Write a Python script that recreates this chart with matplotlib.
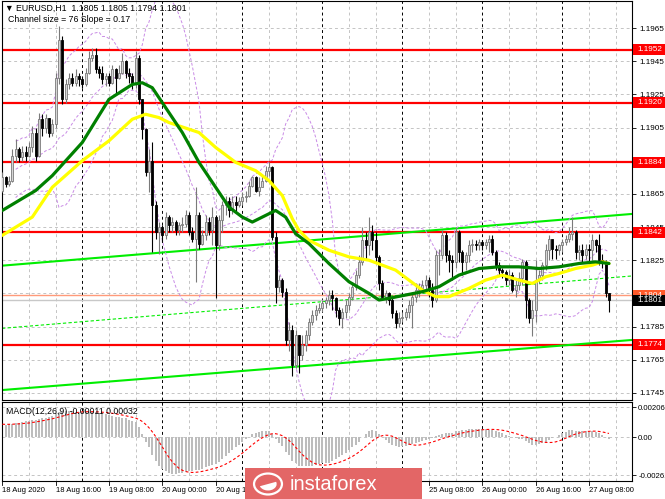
import numpy as np
import pandas as pd
import matplotlib
matplotlib.use('Agg')
import matplotlib.pyplot as plt
from matplotlib.patches import Rectangle, Circle, Wedge
import matplotlib.transforms as mtransforms

plt.rcParams['font.family'] = ['Liberation Sans', 'DejaVu Sans']

# EURUSD H1, prices in pips above 1.1700
first_open = 167
closes = [
    175, 171, 173, 188, 192, 187, 190, 188, 193, 202,
    188, 210, 205, 211, 202, 207, 235, 258, 222, 231,
    235, 232, 236, 234, 231, 238, 247, 249, 240, 238,
    234, 236, 232, 240, 235, 238, 245, 238, 236, 231,
    247, 222, 204, 178, 185, 158, 142, 145, 140, 151,
    146, 148, 143, 146, 147, 152, 142, 138, 152, 135,
    140, 148, 143, 151, 134, 149, 158, 161, 155, 160,
    158, 161, 163, 164, 170, 175, 167, 169, 173, 179,
    181, 139, 109, 113, 106, 77, 83, 62, 80, 68,
    74, 80, 88, 92, 95, 96, 99, 101, 104, 102,
    95, 90, 94, 98, 103, 109, 116, 124, 137, 134,
    142, 137, 127, 111, 103, 105, 101, 93, 87, 90,
    91, 94, 98, 103, 107, 108, 110, 113, 107, 101,
    128, 128, 140, 128, 125, 124, 142, 130, 124, 128,
    134, 135, 134, 136, 134, 136, 138, 130, 122, 119,
    118, 113, 116, 107, 110, 114, 124, 101, 90, 95,
    113, 116, 122, 131, 138, 132, 131, 134, 136, 138,
    141, 142, 130, 131, 128, 132, 131, 137, 134, 125,
    124, 105, 101]
highs = [
    178, 176, 176, 192, 198, 193, 194, 194, 196, 206,
    205, 214, 213, 213, 211, 210, 238, 266, 260, 234,
    238, 238, 240, 238, 236, 241, 251, 253, 253, 242,
    242, 238, 238, 243, 241, 243, 250, 246, 241, 238,
    251, 249, 222, 205, 192, 196, 161, 148, 146, 154,
    152, 151, 149, 148, 151, 155, 154, 145, 169, 154,
    143, 152, 151, 157, 152, 152, 161, 164, 163, 164,
    164, 163, 166, 167, 173, 176, 176, 175, 176, 182,
    184, 182, 142, 116, 114, 108, 88, 86, 83, 80,
    80, 83, 90, 95, 98, 99, 101, 103, 107, 107,
    103, 97, 96, 101, 105, 112, 119, 128, 145, 142,
    151, 146, 142, 128, 113, 107, 106, 103, 95, 94,
    94, 96, 101, 106, 111, 111, 113, 116, 115, 111,
    131, 132, 143, 142, 131, 128, 145, 143, 131, 130,
    137, 138, 137, 138, 137, 138, 140, 140, 131, 124,
    120, 119, 119, 118, 113, 118, 126, 125, 102, 101,
    125, 119, 124, 135, 140, 137, 134, 135, 138, 140,
    145, 151, 143, 134, 135, 135, 135, 141, 138, 141,
    129, 125, 105]
lows = [
    166, 169, 170, 172, 184, 184, 185, 185, 187, 190,
    185, 187, 200, 202, 199, 200, 205, 231, 219, 220,
    228, 230, 230, 230, 229, 230, 237, 245, 238, 235,
    231, 230, 230, 231, 226, 234, 237, 235, 232, 228,
    229, 219, 198, 176, 166, 130, 138, 129, 136, 138,
    142, 142, 140, 140, 142, 145, 140, 136, 112, 132,
    134, 137, 140, 134, 102, 131, 142, 152, 151, 153,
    154, 157, 158, 160, 163, 169, 166, 164, 170, 172,
    176, 137, 99, 106, 103, 74, 70, 55, 60, 57,
    65, 70, 77, 86, 89, 93, 94, 96, 98, 95,
    91, 86, 84, 90, 95, 101, 107, 114, 122, 125,
    128, 131, 124, 107, 101, 99, 98, 90, 84, 85,
    88, 89, 90, 84, 100, 103, 105, 107, 103, 97,
    100, 116, 126, 124, 118, 113, 120, 124, 116, 119,
    124, 130, 131, 131, 131, 132, 130, 128, 119, 116,
    114, 110, 110, 106, 103, 107, 110, 90, 87, 79,
    88, 111, 113, 119, 125, 126, 126, 128, 130, 134,
    136, 137, 126, 125, 124, 126, 124, 125, 130, 122,
    120, 103, 94]

# moving averages: (bar, pips)
green_bar = [0, 10, 15, 24, 32, 39, 42, 45, 48, 54, 59, 64, 68, 72, 75, 78, 82, 85, 88,
             92, 98, 104, 110, 113, 116, 121, 126, 131, 137, 143, 149, 155, 161, 167,
             173, 178, 182]
green_val = [155, 167, 176, 196, 222, 231, 232, 229, 220, 202, 184, 169, 157, 151, 148,
             151, 155, 151, 141, 135, 123, 112, 105, 101, 102, 104, 106, 109, 116, 120,
             121, 121, 120, 121, 123, 124, 123]
yellow_bar = [0, 9, 15, 24, 32, 39, 43, 47, 50, 59, 64, 70, 76, 80, 84, 87, 89, 92, 98,
              104, 110, 114, 118, 122, 126, 130, 134, 140, 145, 150, 155, 159, 163, 167,
              172, 177, 180, 182]
yellow_val = [140, 151, 169, 185, 197, 210, 213, 211, 208, 202, 193, 184, 179, 173, 164,
              150, 143, 137, 131, 127, 125, 122, 119, 113, 107, 103, 103, 108, 113, 116,
              113, 111, 115, 117, 120, 122, 124, 123]

# MACD main (histogram), units of 0.00001
macd_main = [
    90, 88, 90, 92, 95, 100, 105, 110, 115, 120,
    122, 125, 130, 135, 140, 150, 165, 175, 175, 178,
    178, 178, 176, 176, 175, 175, 176, 175, 172, 168,
    163, 158, 152, 148, 143, 140, 135, 130, 122, 112,
    105, 70, 20, -30, -70, -120, -160, -195, -215, -235,
    -245, -250, -250, -248, -245, -240, -235, -232, -225, -222,
    -215, -205, -198, -190, -185, -170, -150, -130, -110, -90,
    -70, -50, -30, -10, 5, 20, 30, 35, 40, 42,
    40, 20, -10, -40, -60, -100, -125, -160, -180, -195,
    -200, -200, -198, -195, -190, -185, -180, -180, -178, -165,
    -150, -135, -120, -105, -88, -70, -50, -30, 0, 25,
    45, 50, 40, 20, 0, -20, -40, -55, -63, -65,
    -63, -60, -55, -48, -40, -32, -25, -18, -12, -7,
    8, 16, 25, 28, 28, 30, 40, 45, 50, 52,
    55, 55, 57, 57, 56, 55, 52, 50, 45, 38,
    28, 18, 8, 0, -5, -10, -15, -28, -42, -50,
    -53, -48, -40, -30, -18, -8, 5, 15, 28, 38,
    48, 50, 45, 42, 40, 40, 38, 40, 38, 30,
    18, 2, -11]

levels = [1.1952, 1.1920, 1.1884, 1.1842, 1.1774]
chan_upper = [1.18217, 1.18529]
chan_lower = [1.17467, 1.17769]
chan_mid = [1.17839, 1.18155]
time_bars = [0, 16, 32, 48, 64, 80, 96, 112, 128, 144, 160, 176]
time_labels = ['18 Aug 2020', '18 Aug 16:00', '19 Aug 08:00', '20 Aug 00:00', '20 Aug 16:00',
               '21 Aug 08:00', '24 Aug 00:00', '24 Aug 16:00', '25 Aug 08:00', '26 Aug 00:00',
               '26 Aug 16:00', '27 Aug 08:00']
day_bars = [24, 48, 72, 96, 120, 144, 168]

base = 1.17
c = base + np.array(closes) / 1e4
h = base + np.array(highs) / 1e4
l = base + np.array(lows) / 1e4
o = np.concatenate([[base + first_open / 1e4], c[:-1]])
n = len(c)
idx = np.arange(n)

W, H = 665, 499
fig = plt.figure(figsize=(W / 100, H / 100), dpi=100)
fig.patch.set_facecolor('white')

def fx(px):
    return px / W

def fy(py):
    return 1 - py / H

ax = fig.add_axes([fx(2), fy(400), fx(630), 399 / H])
ax2 = fig.add_axes([fx(2), fy(481), fx(630), 79 / H])
xmin, xmax = -0.09, 188.91
for a in (ax, ax2):
    a.set_xlim(xmin, xmax)
    a.set_xticks([])
    for s in a.spines.values():
        s.set_linewidth(0.8)
        s.set_color('black')
ax.set_ylim(1.17407, 1.19813)
ax2.set_ylim(-0.00301, 0.00243)

grid_kw = dict(color='#c4c4c4', lw=0.7, ls=(0, (3, 3)), zorder=0)
for a in (ax, ax2):
    for b in range(8, 190, 8):
        if b not in day_bars:
            a.axvline(b, **grid_kw)
    for b in day_bars:
        a.axvline(b, color='black', lw=0.7, ls=(0, (3, 3)), zorder=0.5)

ticks = np.round(np.arange(1.1745, 1.1966, 0.002), 4)
for t in ticks:
    ax.axhline(t, **grid_kw)
ax.yaxis.tick_right()
ax.set_yticks(ticks)
ax.set_yticklabels([f'{t:.4f}' for t in ticks], fontsize=5.9)
ax.tick_params(axis='y', length=3, width=0.6, pad=2)

# horizontal levels and channel
for p in levels:
    ax.axhline(p, color='#ff0000', lw=1.6, zorder=1.5)
ax.axhline(1.1804, color='#ff9a7a', lw=1.0, zorder=1.5)
ax.axhline(1.1801, color='#c8c8c8', lw=1.0, zorder=1.5)
ax.plot([xmin, xmax], chan_upper, color='#00ee00', lw=1.5, zorder=1.6)
ax.plot([xmin, xmax], chan_lower, color='#00ee00', lw=1.5, zorder=1.6)
ax.plot([xmin, xmax], chan_mid, color='#00ee00', lw=0.8, ls=(0, (3, 2)), zorder=1.6)

# Bollinger bands (20, 2) from closes
s = pd.Series(c)
mid = s.rolling(20, min_periods=5).mean()
sd = s.rolling(20, min_periods=5).std(ddof=0)
for band in (mid, mid + 2 * sd, mid - 2 * sd):
    ax.plot(idx, band, color='#c98be6', lw=0.7, ls=(0, (3, 2)), zorder=2)

# candles
up = c >= o
body = np.maximum(np.abs(c - o), 0.00003)
ax.vlines(idx[up], l[up], h[up], color='#7a7a7a', lw=0.8, zorder=3)
ax.vlines(idx[~up], l[~up], h[~up], color='black', lw=0.8, zorder=3)
ax.bar(idx[up], body[up], bottom=o[up], width=0.62, color='#d6d6d6',
       edgecolor='#7a7a7a', linewidth=0.6, zorder=4)
ax.bar(idx[~up], body[~up], bottom=c[~up], width=0.62, color='black',
       edgecolor='black', linewidth=0.6, zorder=4)

ax.plot(yellow_bar, base + np.array(yellow_val) / 1e4, color='#ffff00', lw=2.3, zorder=5,
        solid_capstyle='round')
ax.plot(green_bar, base + np.array(green_val) / 1e4, color='#008000', lw=2.3, zorder=5.1,
        solid_capstyle='round')

fig.text(fx(5), fy(8), '\u25bc EURUSD,H1  1.1805 1.1805 1.1794 1.1801', fontsize=6.3,
         va='center', ha='left')
fig.text(fx(8), fy(20), 'Channel size = 76 Slope = 0.17', fontsize=6.3, va='center', ha='left')

# MACD
hist = np.array(macd_main) / 1e5
sig = pd.Series(hist).rolling(9, min_periods=1).mean()
ax2.bar(idx, hist, width=0.6, color='#bdbdbd', zorder=2)
ax2.plot(idx, sig, color='#ff0000', lw=0.8, ls=(0, (2.5, 2)), zorder=3)
mticks = [0.00206, 0.0, -0.00261]
for t in mticks:
    ax2.axhline(t, **grid_kw)
ax2.yaxis.tick_right()
ax2.set_yticks(mticks)
ax2.set_yticklabels(['0.00206', '0.00', '-0.00261'], fontsize=5.6)
ax2.tick_params(axis='y', length=3, width=0.6, pad=1.5)
fig.text(fx(6), fy(411), 'MACD(12,26,9) -0.00011 0.00032', fontsize=6.3, va='center')

# time axis
for b, lab in zip(time_bars, time_labels):
    xp = 2.3 + b * 630 / (xmax - xmin)
    fig.add_artist(plt.Line2D([fx(xp), fx(xp)], [fy(481), fy(485)], color='black', lw=0.6))
    fig.text(fx(xp), fy(490), lab, fontsize=5.5, ha='left', va='center')

# price labels on scale
fig.canvas.draw()

def scale_label(p, text, fc, tc):
    yd = ax.transData.transform((0, p))[1] / H
    fig.add_artist(Rectangle((fx(633), yd - 5.5 / H), fx(32), 11 / H, transform=fig.transFigure,
                             fc=fc, ec=fc, lw=0, zorder=5))
    fig.text(fx(637), yd, text, fontsize=5.9, color=tc, va='center', ha='left', zorder=6)

for p in levels:
    scale_label(p, f'{p:.4f}', '#ff0000', 'white')
scale_label(1.1804, '1.1804', '#ff5a2a', 'white')
scale_label(1.1801, '1.1801', 'black', 'white')

# instaforex badge
fig.add_artist(Rectangle((fx(245), fy(499)), fx(177), 31 / H, transform=fig.transFigure,
                         fc='#e36666', ec='none', zorder=7))
fig.add_artist(Circle((fx(268), fy(484)), 0.021, transform=fig.transFigure, fc='none',
                      ec='white', lw=1.6, zorder=8))
fig.add_artist(Wedge((fx(268), fy(484)), 0.013, 200, 20, transform=fig.transFigure,
                     fc='white', ec='none', zorder=8))
fig.text(fx(290), fy(490), 'instaforex', fontsize=14.5, color='white', va='baseline',
         ha='left', zorder=8)

fig.savefig('out.png', dpi=100)
